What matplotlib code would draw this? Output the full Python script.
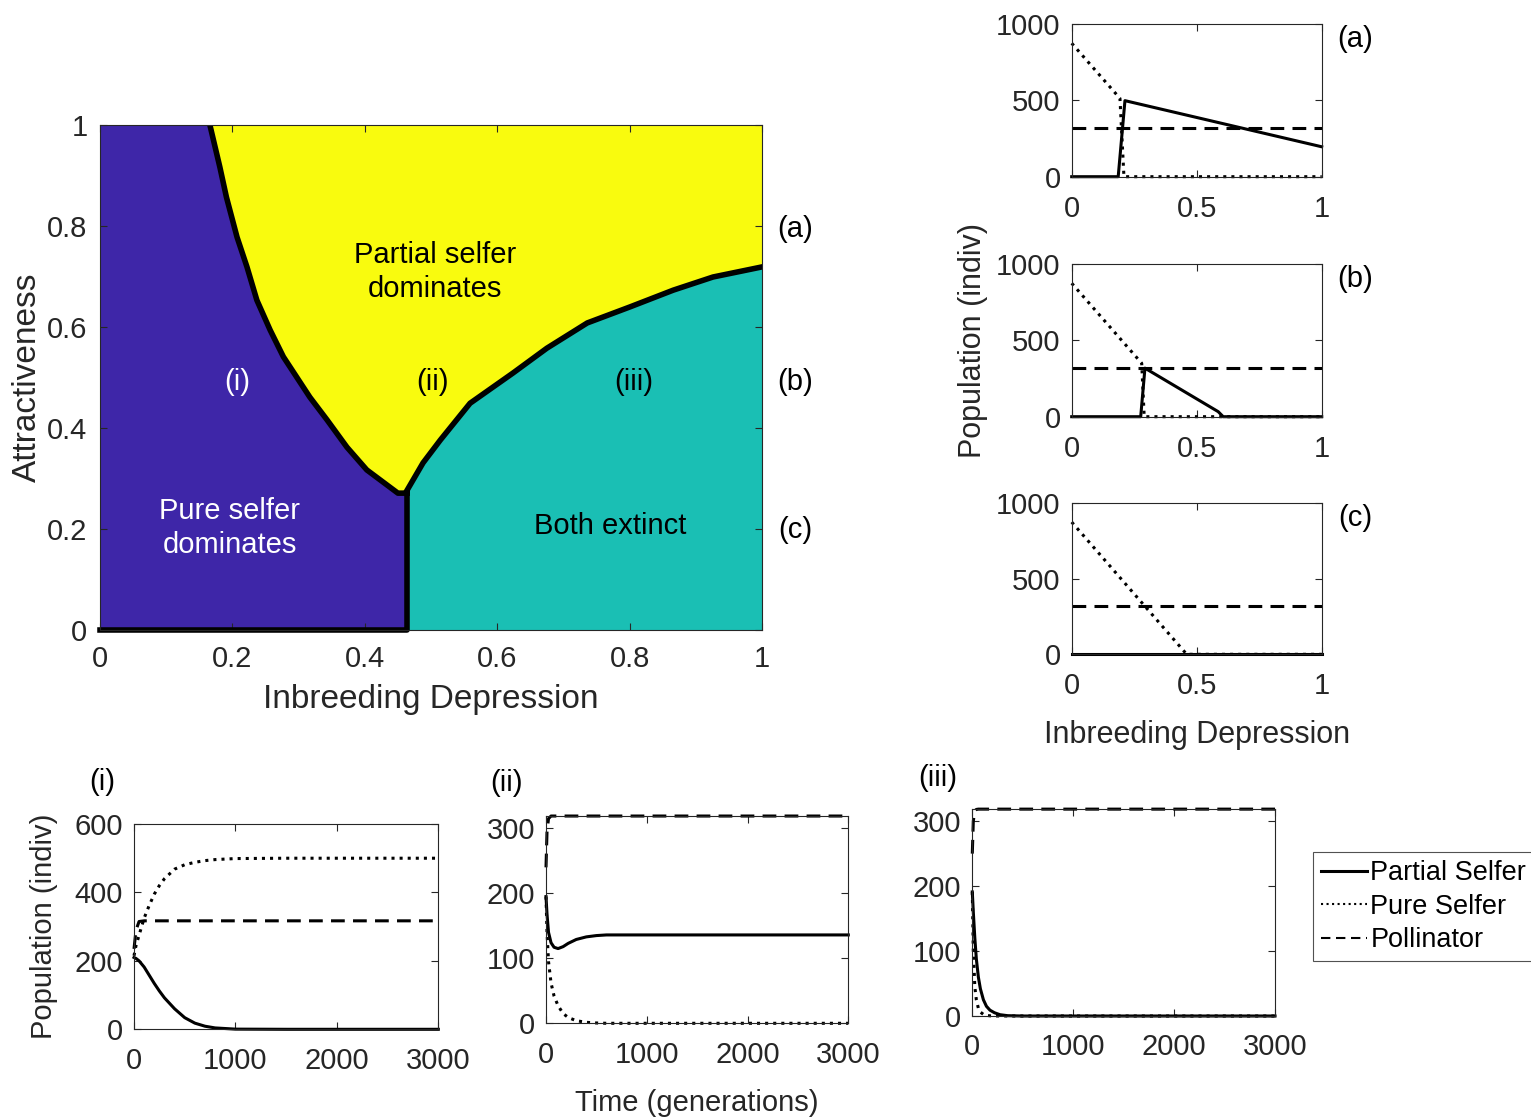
import numpy as np
import matplotlib
matplotlib.use("Agg")
import matplotlib.pyplot as plt
from matplotlib.lines import Line2D

plt.rcParams['font.family'] = ['Liberation Sans', 'DejaVu Sans']

# ---- main phase diagram: boundaries (inbreeding depression, attractiveness)
left_bd_x = [0.166, 0.181, 0.191, 0.207, 0.222, 0.237, 0.257, 0.277, 0.297,
             0.317, 0.343, 0.373, 0.403, 0.450]
left_bd_y = [1.000, 0.917, 0.857, 0.778, 0.719, 0.653, 0.594, 0.541, 0.501,
             0.461, 0.416, 0.362, 0.317, 0.271]
right_bd_x = [0.464, 0.488, 0.514, 0.559, 0.624, 0.675, 0.736, 0.801, 0.866, 0.926, 1.000]
right_bd_y = [0.277, 0.331, 0.376, 0.449, 0.509, 0.558, 0.608, 0.640, 0.673, 0.699, 0.719]
split_x = 0.464

# ---- right panels: population vs inbreeding depression
a_partial_x = [0, 0.186, 0.213, 1.0]
a_partial = [0, 0, 498, 196]
a_pure_x = [0, 0.193, 0.209, 1.0]
a_pure = [874, 513, 0, 0]

b_partial_x = [0, 0.276, 0.293, 0.586, 0.606, 1.0]
b_partial = [0, 0, 318, 33, 0, 0]
b_pure_x = [0, 0.28, 0.29, 1.0]
b_pure = [874, 350, 0, 0]

c_partial_x = [0, 1.0]
c_partial = [0, 0]
c_pure_x = [0, 0.46, 1.0]
c_pure = [874, 0, 0]

poll_x = [0, 1.0]
poll_level = [318, 318]

# ---- bottom panels: time series
t_i = [0, 20, 50, 100, 150, 200, 250, 300, 400, 500, 600, 700, 800, 1000, 1500, 3000]
partial_i = [210, 207, 200, 182, 158, 134, 112, 92, 60, 34, 18, 9, 4, 0.5, 0, 0]
pure_i = [215, 245, 275, 325, 362, 395, 420, 440, 468, 481, 488, 493, 496, 499, 500, 500]
poll_i = [235, 290, 315, 317, 317, 317, 317, 317, 317, 317, 317, 317, 317, 317, 317, 317]

t_ii = [0, 10, 25, 50, 80, 120, 170, 220, 300, 400, 500, 600, 800, 3000]
partial_ii = [195, 168, 140, 124, 117, 115, 118, 123, 129, 133, 135, 136, 136, 136]
pure_ii = [195, 140, 95, 62, 42, 27, 15, 9, 4, 1.5, 0.5, 0, 0, 0]
poll_ii = [240, 295, 315, 319, 319, 319, 319, 319, 319, 319, 319, 319, 319, 319]

t_iii = [0, 10, 25, 40, 60, 80, 110, 140, 175, 220, 275, 350, 500, 3000]
partial_iii = [191, 160, 120, 88, 60, 42, 25, 15, 9, 5, 2, 0.5, 0, 0]
pure_iii = [191, 100, 45, 25, 12, 6, 2.5, 1, 0.3, 0, 0, 0, 0, 0]
poll_iii = [250, 300, 316, 318, 318.5, 318.5, 318.5, 318.5, 318.5, 318.5, 318.5, 318.5, 318.5, 318.5]

unit_ticks = [0, 0.2, 0.4, 0.6, 0.8, 1]
unit_labels = ["0", "0.2", "0.4", "0.6", "0.8", "1"]

PURPLE = "#3E26A8"
YELLOW = "#F9FB0E"
TEAL = "#1ABFB4"
GREY = "#262626"
TICK_FS = 21
DASHES = (4.5, 2.7)

W, H = 1531, 1119
fig = plt.figure(figsize=(W / 100, H / 100), dpi=100)


def px_axes(x0, x1, y0, y1):
    """Axes from pixel box (left, right, top, bottom)."""
    return fig.add_axes([x0 / W, 1 - y1 / H, (x1 - x0) / W, (y1 - y0) / H])


def matlab_style(ax, xpad=11, ypad=8):
    for s in ax.spines.values():
        s.set_color(GREY)
        s.set_linewidth(0.8)
    ax.tick_params(direction="in", top=True, right=True, length=5,
                   width=0.8, color=GREY, labelsize=TICK_FS, labelcolor=GREY)
    ax.tick_params(axis="x", pad=xpad)
    ax.tick_params(axis="y", pad=ypad)


# ---- main panel
ax = px_axes(100, 762, 125, 630)
ax.set_xlim(0, 1)
ax.set_ylim(0, 1)
ax.fill([0, 1, 1, 0], [0, 0, 1, 1], color=YELLOW, lw=0)
ax.fill([0, 0] + left_bd_x + [split_x, split_x],
        [0, 1] + left_bd_y + [0.271, 0], color=PURPLE, lw=0)
ax.fill([split_x] + right_bd_x + [1, split_x],
        [0] + right_bd_y + [0, 0], color=TEAL, lw=0)
ax.plot(left_bd_x + [split_x], left_bd_y + [0.271], color="k", lw=4)
ax.plot(right_bd_x, right_bd_y, color="k", lw=4)
ax.plot([split_x, split_x, 0], [0.271, 0, 0], color="k", lw=4, clip_on=False)
matlab_style(ax, xpad=11, ypad=9)
ax.set_xticks(unit_ticks)
ax.set_xticklabels(unit_labels)
ax.set_yticks(unit_ticks)
ax.set_yticklabels(unit_labels)
ax.set_xlabel("Inbreeding Depression", fontsize=24, color=GREY, labelpad=8)
ax.set_ylabel("Attractiveness", fontsize=24, color=GREY, labelpad=3)
ax.text(0.506, 0.709, "Partial selfer\ndominates", ha="center", va="center",
        fontsize=TICK_FS, linespacing=1.3)
ax.text(0.196, 0.202, "Pure selfer\ndominates", ha="center", va="center",
        fontsize=TICK_FS, color="white", linespacing=1.3)
ax.text(0.770, 0.206, "Both extinct", ha="center", va="center", fontsize=TICK_FS)
ax.text(0.207, 0.491, "(i)", ha="center", va="center", fontsize=TICK_FS, color="white")
ax.text(0.502, 0.491, "(ii)", ha="center", va="center", fontsize=TICK_FS)
ax.text(0.807, 0.491, "(iii)", ha="center", va="center", fontsize=TICK_FS)
for lab, yv in zip(["(a)", "(b)", "(c)"], [0.794, 0.491, 0.198]):
    ax.text(1.05, yv, lab, transform=ax.transAxes, ha="center", va="center", fontsize=TICK_FS)

# ---- right panels
right_boxes = [(24, 176.7), (264, 416.7), (503, 654.3)]
right_data = [
    (a_partial_x, a_partial, a_pure_x, a_pure),
    (b_partial_x, b_partial, b_pure_x, b_pure),
    (c_partial_x, c_partial, c_pure_x, c_pure),
]
for (top, bot), (px_, py_, qx_, qy_), lab in zip(right_boxes, right_data, ["(a)", "(b)", "(c)"]):
    ra = px_axes(1071.7, 1321.7, top, bot)
    ra.plot(px_, py_, color="k", lw=2.2, clip_on=False)
    ra.plot(qx_, qy_, color="k", lw=2.2, ls=":", clip_on=False)
    ra.plot(poll_x, poll_level, color="k", lw=2.2, dashes=DASHES)
    ra.set_xlim(0, 1)
    ra.set_ylim(0, 1000)
    matlab_style(ra, xpad=13, ypad=8)
    ra.set_xticks([0, 0.5, 1])
    ra.set_xticklabels(["0", "0.5", "1"])
    ra.set_yticks([0, 500, 1000])
    ra.text(1.135, 0.9, lab, transform=ra.transAxes, ha="center", va="center", fontsize=TICK_FS)
    if lab == "(b)":
        ra.set_ylabel("Population (indiv)", fontsize=22, color=GREY, labelpad=6)
    if lab == "(c)":
        ra.set_xlabel("Inbreeding Depression", fontsize=22, color=GREY, labelpad=14)

# ---- bottom panels
bottom_boxes = [(134, 438.3, 824, 1029.3), (546, 848.3, 815.7, 1023.3), (972.3, 1275, 809, 1016)]
bottom_data = [
    (t_i, partial_i, pure_i, poll_i, 600, [0, 200, 400, 600]),
    (t_ii, partial_ii, pure_ii, poll_ii, 319.5, [0, 100, 200, 300]),
    (t_iii, partial_iii, pure_iii, poll_iii, 318.7, [0, 100, 200, 300]),
]
panel_tags = [("(i)", -0.105, 1.205), ("(ii)", -0.132, 1.157), ("(iii)", -0.113, 1.15)]
for (x0, x1, y0, y1), (tt, pa, pu, po, ytop, yt), (lab, lx, ly) in zip(bottom_boxes, bottom_data, panel_tags):
    ba = px_axes(x0, x1, y0, y1)
    ba.plot(tt, pa, color="k", lw=2.2, clip_on=False)
    ba.plot(tt, pu, color="k", lw=2.2, ls=":", clip_on=False)
    ba.plot(tt, po, color="k", lw=2.2, dashes=DASHES, clip_on=False)
    ba.set_xlim(0, 3000)
    ba.set_ylim(0, ytop)
    matlab_style(ba, xpad=12.5, ypad=8)
    ba.set_xticks([0, 1000, 2000, 3000])
    ba.set_yticks(yt)
    ba.text(lx, ly, lab, transform=ba.transAxes, ha="center", va="center", fontsize=TICK_FS)
    if lab == "(i)":
        ba.set_ylabel("Population (indiv)", fontsize=21, color=GREY, labelpad=12)
    if lab == "(ii)":
        ba.set_xlabel("Time (generations)", fontsize=21, color=GREY, labelpad=15)

handles = [Line2D([], [], color="k", lw=2.2),
           Line2D([], [], color="k", lw=1.5, ls=":"),
           Line2D([], [], color="k", lw=1.5, dashes=DASHES)]
leg = fig.legend(handles, ["Partial Selfer", "Pure Selfer", "Pollinator"],
                 loc="upper left", bbox_to_anchor=(1313 / W, 1 - 852 / H),
                 fontsize=19.5, frameon=True, fancybox=False, handlelength=1.7,
                 handletextpad=0.12, borderpad=0.3, labelspacing=0.28, borderaxespad=0)
leg.get_frame().set_edgecolor(GREY)
leg.get_frame().set_linewidth(0.8)

fig.savefig("out.png", dpi=100)
